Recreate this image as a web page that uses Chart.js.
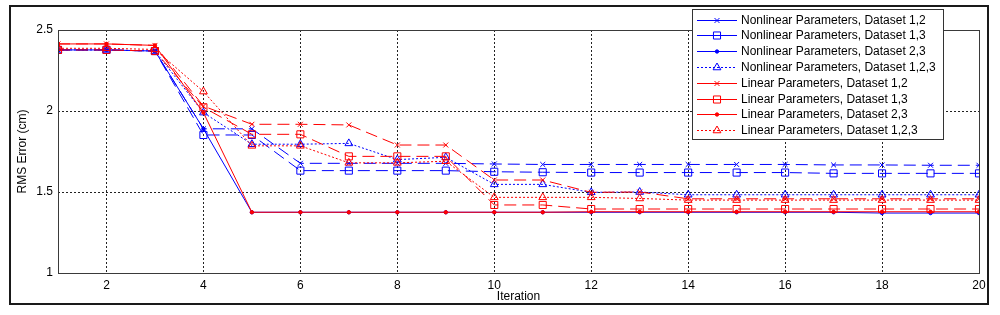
<!DOCTYPE html>
<html>
<head>
<meta charset="utf-8">
<script src="https://cdn.jsdelivr.net/npm/chart.js@4"></script>
<style>
  html, body { margin: 0; padding: 0; background: #fff; }
  #wrap { width: 1000px; height: 315px; }
</style>
</head>
<body>
<div id="wrap"><canvas id="rmsChart" width="1000" height="315"></canvas></div>
<script>
// iteration numbers and axis ticks
const iterations = [1, 2, 3, 4, 5, 6, 7, 8, 9, 10, 11, 12, 13, 14, 15, 16, 17, 18, 19, 20];
const xTicks = [2, 4, 6, 8, 10, 12, 14, 16, 18, 20];
const yTicks = [1, 1.5, 2, 2.5];

const seriesLabels = [
  "Nonlinear Parameters, Dataset 1,2",
  "Nonlinear Parameters, Dataset 1,3",
  "Nonlinear Parameters, Dataset 2,3",
  "Nonlinear Parameters, Dataset 1,2,3",
  "Linear Parameters, Dataset 1,2",
  "Linear Parameters, Dataset 1,3",
  "Linear Parameters, Dataset 2,3",
  "Linear Parameters, Dataset 1,2,3"
];

// RMS error (cm)
const nl12  = [2.377, 2.377, 2.37, 1.89, 1.89, 1.677, 1.677, 1.677, 1.677, 1.673, 1.67, 1.67, 1.67, 1.67, 1.67, 1.67, 1.667, 1.667, 1.665, 1.665];
const nl13  = [2.377, 2.377, 2.37, 1.852, 1.852, 1.632, 1.632, 1.632, 1.632, 1.625, 1.622, 1.62, 1.62, 1.62, 1.62, 1.62, 1.615, 1.615, 1.615, 1.615];
const nl23  = [2.377, 2.377, 2.37, 1.89, 1.375, 1.375, 1.375, 1.375, 1.375, 1.375, 1.375, 1.375, 1.375, 1.375, 1.375, 1.375, 1.375, 1.37, 1.37, 1.37];
const nl123 = [2.377, 2.377, 2.37, 1.99, 1.795, 1.795, 1.80, 1.70, 1.714, 1.547, 1.547, 1.498, 1.50, 1.483, 1.483, 1.483, 1.483, 1.483, 1.483, 1.483];
const lin12  = [2.414, 2.414, 2.405, 2.03, 1.918, 1.918, 1.914, 1.79, 1.79, 1.574, 1.574, 1.498, 1.50, 1.458, 1.458, 1.458, 1.458, 1.458, 1.458, 1.458];
const lin13  = [2.377, 2.377, 2.37, 2.023, 1.856, 1.856, 1.72, 1.72, 1.72, 1.42, 1.42, 1.395, 1.395, 1.395, 1.395, 1.395, 1.395, 1.395, 1.395, 1.395];
const lin23  = [2.414, 2.414, 2.405, 1.99, 1.375, 1.375, 1.375, 1.375, 1.375, 1.375, 1.375, 1.378, 1.378, 1.378, 1.378, 1.378, 1.378, 1.378, 1.378, 1.378];
const lin123 = [2.387, 2.387, 2.38, 2.12, 1.785, 1.785, 1.68, 1.68, 1.69, 1.467, 1.467, 1.467, 1.46, 1.45, 1.45, 1.45, 1.45, 1.45, 1.45, 1.45];

const BLUE = "#0000ff";
const RED = "#ff0000";
const FONT = "'Liberation Sans', Arial, sans-serif";

function series(label, values, color, marker, dash, legendDash, order) {
  return {
    label: label,
    data: values.map((v, i) => ({ x: iterations[i], y: v })),
    borderColor: color,
    borderWidth: 1,
    borderDash: dash,
    legendDash: legendDash,
    pointStyle: marker.style,
    pointRadius: marker.radius,
    pointBorderWidth: 1,
    pointBorderColor: color,
    pointBackgroundColor: marker.fill ? color : "rgba(0,0,0,0)",
    tension: 0,
    fill: false,
    order: order
  };
}

const mCross = { style: "crossRot", radius: 3.5, fill: false };
const mSquare = { style: "rect", radius: 5, fill: false };
const mDot = { style: "circle", radius: 1.7, fill: true };
const mTri = { style: "triangle", radius: 4.5, fill: false };

const longDash = [12, 6];
const dotted = [2, 2];

const datasets = [
  series(seriesLabels[0], nl12, BLUE, mCross, longDash, [], 8),
  series(seriesLabels[1], nl13, BLUE, mSquare, longDash, [], 7),
  series(seriesLabels[2], nl23, BLUE, mDot, [], [], 6),
  series(seriesLabels[3], nl123, BLUE, mTri, dotted, dotted, 5),
  series(seriesLabels[4], lin12, RED, mCross, longDash, [], 4),
  series(seriesLabels[5], lin13, RED, mSquare, longDash, [], 3),
  series(seriesLabels[6], lin23, RED, mDot, [], [], 2),
  series(seriesLabels[7], lin123, RED, mTri, dotted, dotted, 1)
];

// white page, outer frame and the box round the plot
const framePlugin = {
  id: "frame",
  beforeDraw(chart) {
    const ctx = chart.ctx;
    ctx.save();
    ctx.fillStyle = "#fff";
    ctx.fillRect(0, 0, chart.width, chart.height);
    ctx.restore();
  },
  afterDatasetsDraw(chart) {
    const ctx = chart.ctx;
    const a = chart.chartArea;
    ctx.save();
    ctx.strokeStyle = "#3a3a3a";
    ctx.lineWidth = 1;
    ctx.setLineDash([]);
    ctx.strokeRect(Math.round(a.left) + 0.5, Math.round(a.top) + 0.5,
      Math.round(a.right - a.left), Math.round(a.bottom - a.top));
    ctx.strokeStyle = "#1a1a1a";
    ctx.lineWidth = 2;
    ctx.strokeRect(10, 6, 978, 298);
    ctx.restore();
  }
};

// MATLAB-style legend box in the top right corner
const legendBoxPlugin = {
  id: "legendBox",
  afterDraw(chart) {
    const ctx = chart.ctx;
    const box = { x: 692.5, y: 9.5, w: 251, h: 130 };
    const rowH = 15.8;
    ctx.save();
    ctx.fillStyle = "#fff";
    ctx.fillRect(box.x, box.y, box.w, box.h);
    ctx.strokeStyle = "#333";
    ctx.lineWidth = 1;
    ctx.strokeRect(box.x, box.y, box.w, box.h);
    ctx.font = "12px " + FONT;
    ctx.textBaseline = "middle";
    chart.data.datasets.forEach((ds, i) => {
      const y = Math.round(box.y + 10 + i * rowH) + 0.5;
      ctx.strokeStyle = ds.borderColor;
      ctx.lineWidth = 1;
      ctx.setLineDash(ds.legendDash);
      ctx.beginPath();
      ctx.moveTo(697, y);
      ctx.lineTo(737, y);
      ctx.stroke();
      ctx.setLineDash([]);
      ctx.fillStyle = ds.pointBackgroundColor;
      ctx.strokeStyle = ds.borderColor;
      Chart.helpers.drawPoint(ctx, {
        pointStyle: ds.pointStyle,
        radius: ds.pointRadius,
        borderWidth: 1,
        rotation: 0
      }, 717, y);
      ctx.fillStyle = "#000";
      ctx.fillText(ds.label, 741, y);
    });
    ctx.restore();
  }
};

const gridStyle = {
  color: "#222",
  lineWidth: 1,
  drawTicks: false
};

new Chart(document.getElementById("rmsChart"), {
  type: "line",
  data: { datasets: datasets },
  options: {
    responsive: false,
    animation: false,
    events: [],
    layout: { padding: { left: 0, top: 30, right: 21, bottom: 0 } },
    plugins: {
      legend: { display: false },
      tooltip: { enabled: false }
    },
    scales: {
      x: {
        type: "linear",
        min: 1,
        max: 20,
        afterBuildTicks: scale => { scale.ticks = xTicks.map(v => ({ value: v })); },
        afterFit: scale => { scale.height = 42; },
        ticks: {
          color: "#000",
          padding: 5,
          maxRotation: 0,
          font: { family: FONT, size: 12 },
          callback: v => String(v)
        },
        grid: gridStyle,
        border: { display: false, dash: [2, 2] },
        title: {
          display: true,
          text: "Iteration",
          color: "#000",
          font: { family: FONT, size: 12 },
          padding: { top: 0, bottom: 11 }
        }
      },
      y: {
        type: "linear",
        min: 1,
        max: 2.5,
        afterBuildTicks: scale => { scale.ticks = yTicks.map(v => ({ value: v })); },
        afterFit: scale => { scale.width = 58; },
        ticks: {
          color: "#000",
          padding: 5,
          font: { family: FONT, size: 12 },
          callback: v => String(v)
        },
        grid: gridStyle,
        border: { display: false, dash: [2, 2] },
        title: {
          display: true,
          text: "RMS Error (cm)",
          color: "#000",
          font: { family: FONT, size: 12 },
          padding: { top: 15, bottom: 0 }
        }
      }
    }
  },
  plugins: [framePlugin, legendBoxPlugin]
});
</script>
</body>
</html>
